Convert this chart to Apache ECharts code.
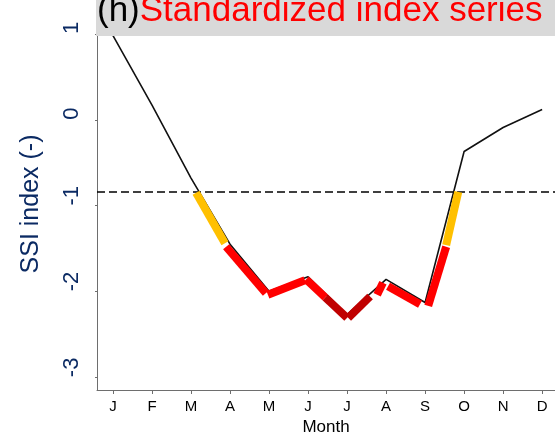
<!DOCTYPE html>
<html>
<head>
<meta charset="utf-8">
<script src="https://cdn.jsdelivr.net/npm/echarts@6/dist/echarts.min.js"></script>
<style>
html,body{margin:0;padding:0;background:#fff;}
#chart{width:555px;height:435px;}
</style>
</head>
<body>
<div id="chart"></div>
<script>
// ---- data ----
const monthLabels = ['J','F','M','A','M','J','J','A','S','O','N','D'];
const monthPos = [1,2,3,4,5,6,7,8,9,10,11,12];
const ssiValues = [0.98, 0.17, -0.68, -1.45, -2.0, -1.83, -2.27, -1.86, -2.13, -0.37, -0.09, 0.12];
const droughtThreshold = -0.84;
const yTicks = [-3, -2, -1, 0, 1];

// drought period pieces (month position, SSI value) by severity class
const moderateA = [[3.13, -0.85], [3.87, -1.44]];
const severeA   = [[3.90, -1.48], [4.92, -2.02]];
const severeB   = [[4.97, -2.04], [5.92, -1.87]];
const severeC   = [[5.95, -1.86], [6.44, -2.07]];
const extremeA  = [[6.44, -2.07], [7.00, -2.31]];
const extremeB  = [[7.03, -2.31], [7.59, -2.06]];
const severeD   = [[7.77, -2.04], [7.92, -1.90]];
const severeE   = [[8.05, -1.94], [8.87, -2.15]];
const severeF   = [[9.08, -2.17], [9.54, -1.48]];
const moderateB = [[9.54, -1.46], [9.85, -0.84]];

const COL_MOD = '#FFC000', COL_SEV = '#FF0000', COL_EXT = '#C00000';
const navy = '#0B2A63';
const font = 'Liberation Sans, Arial, Helvetica, sans-serif';

function piece(data, color) {
  return {
    type: 'line', data: data, symbol: 'none', z: 5, silent: true,
    lineStyle: { color: color, width: 8, cap: 'butt' }
  };
}

const chart = echarts.init(document.getElementById('chart'), null, {renderer: 'canvas'});
chart.setOption({
  animation: false,
  backgroundColor: '#ffffff',
  grid: { left: 97, right: 0, top: 34, bottom: 45, containLabel: false, outerBoundsMode: 'none' },
  xAxis: {
    type: 'value', min: 0.59, max: 12.33,
    name: 'Month', nameLocation: 'middle', nameGap: 29,
    nameTextStyle: { color: '#000', fontSize: 17, fontFamily: font },
    axisLine: { show: true, onZero: false, lineStyle: { color: '#6e6e6e', width: 1 } },
    axisTick: { show: true, length: 4, customValues: monthPos, lineStyle: { color: '#6e6e6e' } },
    axisLabel: {
      customValues: monthPos, margin: 9, color: '#000', fontSize: 15, fontFamily: font,
      formatter: function (v) { return monthLabels[Math.round(v) - 1] || ''; }
    },
    splitLine: { show: false }
  },
  yAxis: {
    type: 'value', min: -3.15, max: 1,
    axisLine: { show: true, onZero: false, lineStyle: { color: '#6e6e6e', width: 1 } },
    axisTick: { show: true, length: 2, customValues: yTicks, lineStyle: { color: '#6e6e6e' } },
    axisLabel: {
      customValues: yTicks, rotate: 90, margin: 14, color: navy, fontSize: 22, fontFamily: font,
      align: 'left', verticalAlign: 'bottom'
    },
    splitLine: { show: false }
  },
  graphic: [
    { type: 'rect', z: 100, shape: { x: 96, y: 0, width: 459, height: 36 }, style: { fill: '#D9D9D9' } },
    { type: 'text', z: 101, x: 97, y: 11,
      style: { text: '{a|(h)}{b|Standardized index series}', verticalAlign: 'middle', align: 'left',
        rich: { a: { fill: '#000', fontSize: 35, fontFamily: font }, b: { fill: '#FF0000', fontSize: 35, fontFamily: font } } } },
    { type: 'text', z: 101, x: 31, y: 204, rotation: Math.PI / 2,
      style: { text: 'SSI index (-)', fill: navy, fontSize: 25, fontFamily: font, align: 'center', verticalAlign: 'middle' } }
  ],
  series: [
    {
      type: 'line', data: monthPos.map(function (m, i) { return [m, ssiValues[i]]; }),
      symbol: 'none', z: 3, silent: true,
      lineStyle: { color: '#111', width: 1.6 },
      markLine: {
        silent: true, symbol: 'none', label: { show: false },
        lineStyle: { color: '#000', type: [8, 4], width: 1.5 },
        data: [{ yAxis: droughtThreshold }]
      }
    },
    piece(moderateA, COL_MOD),
    piece(severeA, COL_SEV),
    piece(severeB, COL_SEV),
    piece(severeC, COL_SEV),
    piece(extremeA, COL_EXT),
    piece(extremeB, COL_EXT),
    piece(severeD, COL_SEV),
    piece(severeE, COL_SEV),
    piece(severeF, COL_SEV),
    piece(moderateB, COL_MOD)
  ]
});
</script>
</body>
</html>
